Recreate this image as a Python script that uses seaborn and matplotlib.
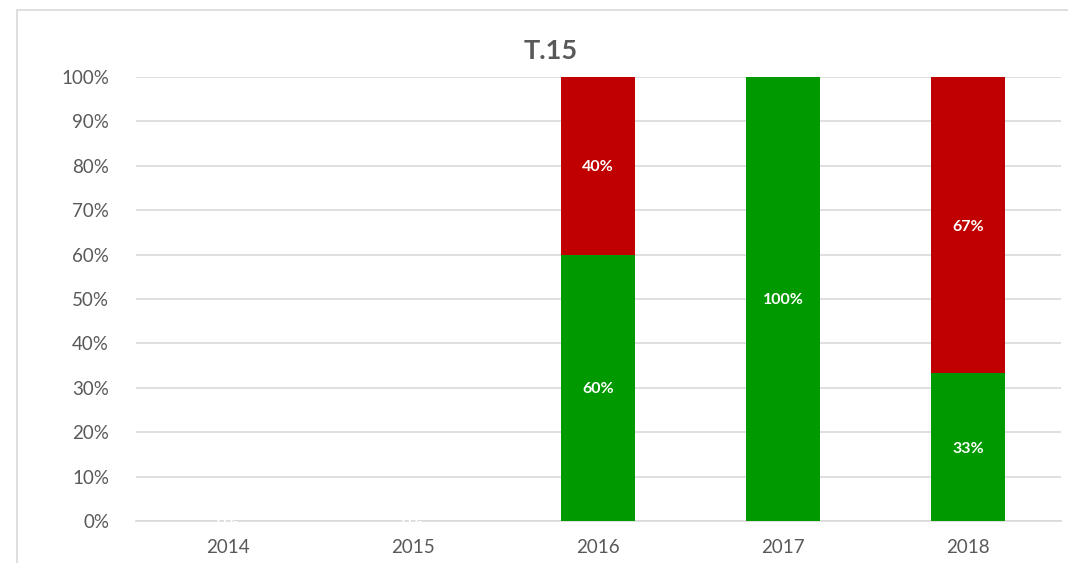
import matplotlib
matplotlib.use("Agg")
import matplotlib.pyplot as plt
from matplotlib.patches import Rectangle
import seaborn as sns
import pandas as pd

years = ["2014", "2015", "2016", "2017", "2018"]
green_vals = [0, 0, 60, 100, 33.33]
red_vals = [0, 0, 40, 0, 66.67]
green_labels = ["0%", "0%", "60%", "100%", "33%"]
red_labels = ["", "", "40%", "", "67%"]
yticks = [0, 10, 20, 30, 40, 50, 60, 70, 80, 90, 100]
ytick_labels = [f"{v}%" for v in yticks]
title = "T.15"

GREEN = "#009900"
RED = "#C00000"
TXT = "#595959"
GRID = "#D9D9D9"

sns.set_theme(style="white")
plt.rcParams["font.family"] = ["Lato", "DejaVu Sans"]

df = pd.DataFrame({"year": years, "green": green_vals, "red": red_vals})

fig = plt.figure(figsize=(10.68, 5.63), dpi=100)
ax = fig.add_axes([135.5 / 1068, 1 - 521 / 563, 925 / 1068, 444 / 563])

sns.barplot(data=df, x="year", y="green", color=GREEN, width=0.4,
            saturation=1, ax=ax, zorder=3, linewidth=0)
sns.barplot(data=df, x="year", y="red", color=RED, width=0.4,
            saturation=1, ax=ax, zorder=3, linewidth=0, bottom=df["green"])

for i, (g, r) in enumerate(zip(green_vals, red_vals)):
    ax.text(i, g / 2, green_labels[i], ha="center", va="center_baseline",
            color="white", fontsize=11.5, fontweight="bold", zorder=4)
    if red_labels[i]:
        ax.text(i, g + r / 2, red_labels[i], ha="center", va="center_baseline",
                color="white", fontsize=11.5, fontweight="bold", zorder=4)

ax.set_ylim(0, 100)
ax.set_xlim(-0.5, len(years) - 0.5)
ax.set_yticks(yticks)
ax.set_yticklabels(ytick_labels)
ax.yaxis.grid(True, color=GRID, linewidth=1.2, zorder=0)
ax.set_axisbelow(True)
for s in ["left", "right", "top"]:
    ax.spines[s].set_visible(False)
ax.spines["bottom"].set_color(GRID)
ax.spines["bottom"].set_linewidth(1.2)
ax.tick_params(axis="both", length=0, labelsize=13.5, colors=TXT)
ax.tick_params(axis="x", pad=13)
ax.tick_params(axis="y", pad=19)
ax.set_xlabel("")
ax.set_ylabel("")

fig.text(551 / 1068, 1 - 51 / 563, title, ha="center", va="center",
         fontsize=19.5, fontweight="bold", color=TXT)

fig.patches.append(Rectangle((17 / 1068, -0.05), 1.1, 1 - 10 / 563 + 0.05,
                             transform=fig.transFigure, fill=False,
                             edgecolor=GRID, linewidth=1.2, zorder=0))

fig.savefig("out.png", dpi=100)
